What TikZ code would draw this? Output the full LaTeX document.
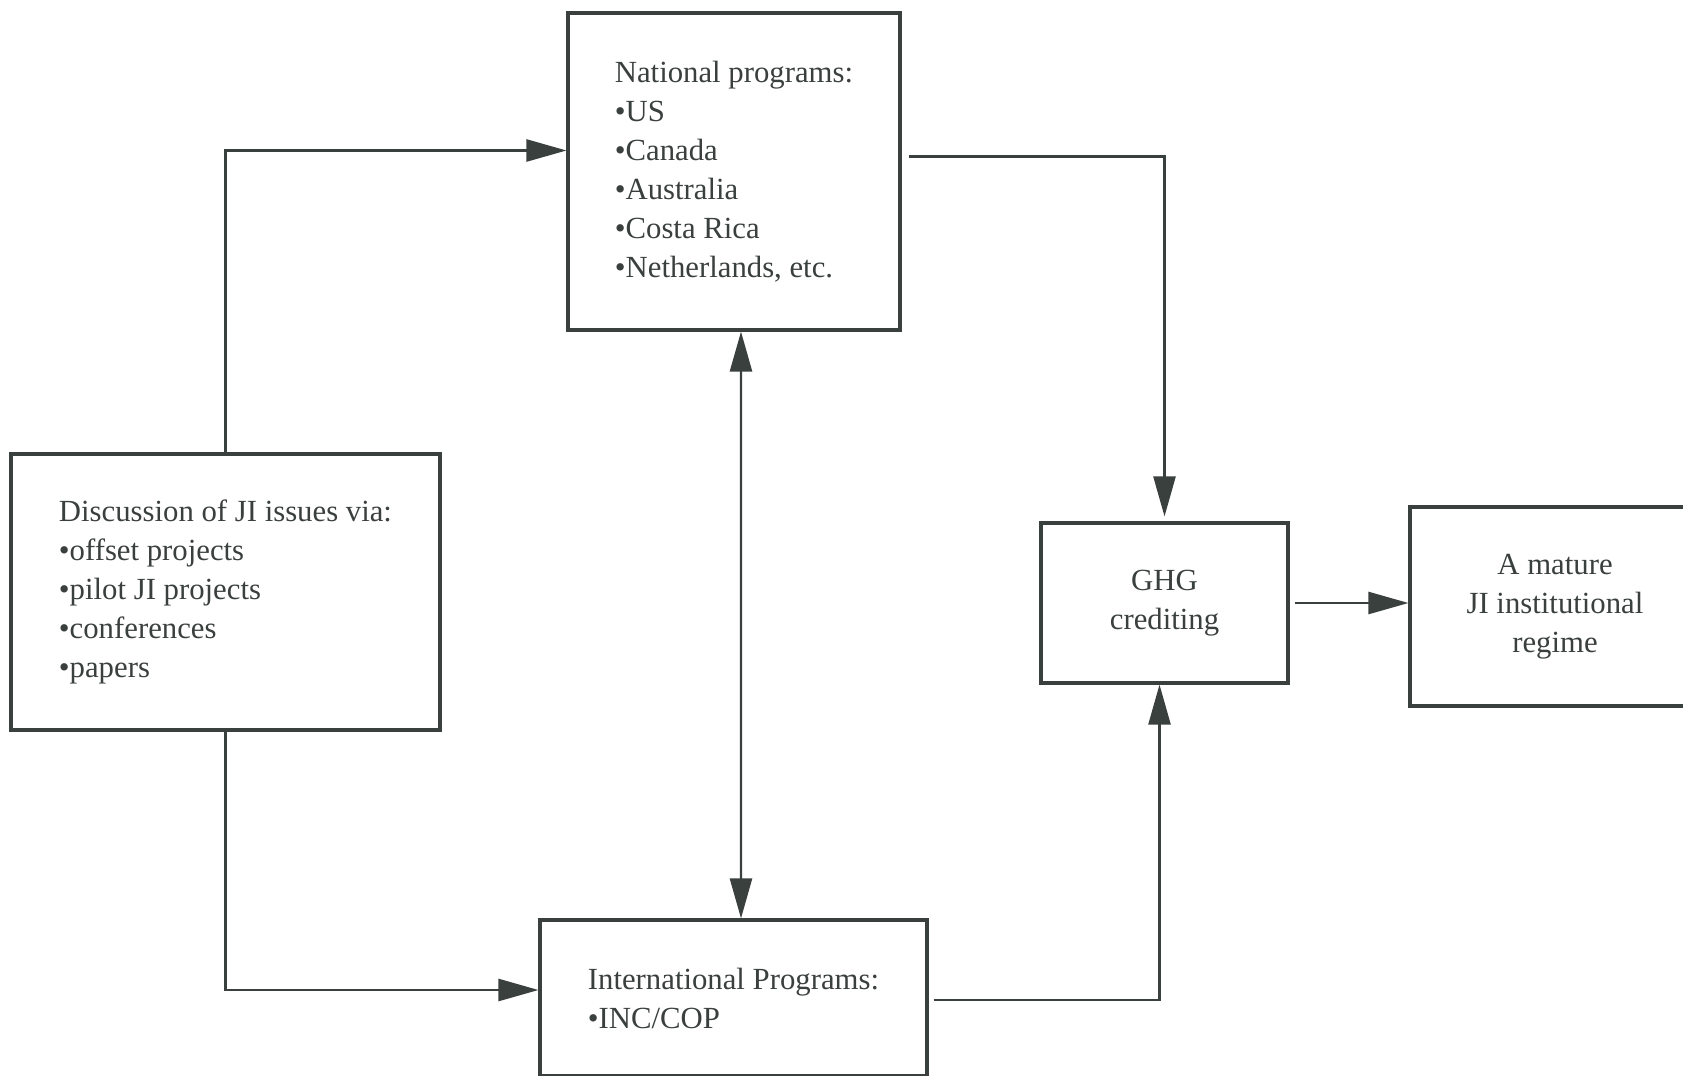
\documentclass[tikz,border=0pt]{standalone}
\usepackage{fontspec}
\setmainfont{Liberation Serif}
\usetikzlibrary{arrows.meta,calc}
\definecolor{ink}{HTML}{3A403D}
\begin{document}
\begin{tikzpicture}[x=0.02cm,y=-0.02cm]
    \tikzset{box/.style = {draw=ink,line width=1.8pt,text=ink,inner sep=0pt,align=left,font=\fontsize{17.5}{22.2}\selectfont}}
    \tikzset{edge/.style = {draw=ink,line width=1.4pt,->,> = {Triangle[length=0.8cm,width=0.44cm]}}}
    \clip (0,0) rectangle (1683,1075);
    % boxes on the left and in the middle
    \node[box,minimum width=8.58cm,minimum height=5.52cm] (disc) at (225.5,592) {Discussion of JI issues via:\\•offset projects\\•pilot JI projects\\•conferences\\•papers};
    \node[box,minimum width=6.64cm,minimum height=6.34cm] (nat) at (734,171.5) {National programs:\\•US\\•Canada\\•Australia\\•Costa Rica\\•Netherlands, etc.};
    \node[box,minimum width=7.74cm,minimum height=3.12cm] (intl) at (733.5,998) {International Programs:\\•INC/COP};
    % boxes on the right
    \node[box,align=center,minimum width=4.94cm,minimum height=3.2cm] (ghg) at (1164.5,603) {GHG\\crediting};
    \node[box,align=center,minimum width=5.8cm,minimum height=3.98cm] (mature) at (1555,606.5) {A mature\\JI institutional\\regime};
    % edges
    \draw[edge] (disc.north) |- ($(nat.west)+(0,-21)$);
    \draw[edge] (disc.south) |- ($(intl.west)+(0,-8)$);
    \draw[edge,<->] ($(nat.south)+(7,0)$) -- ($(intl.north)+(7.5,0)$);
    \draw[edge,shorten >=0.1cm] ($(nat.east)+(7,-15)$) -| (ghg.north);
    \draw[edge] ($(intl.east)+(5,2)$) -| ($(ghg.south)+(-5,0)$);
    \draw[edge] ([xshift=0.1cm]ghg.east) -- (ghg.east -| mature.west);
\end{tikzpicture}
\end{document}
